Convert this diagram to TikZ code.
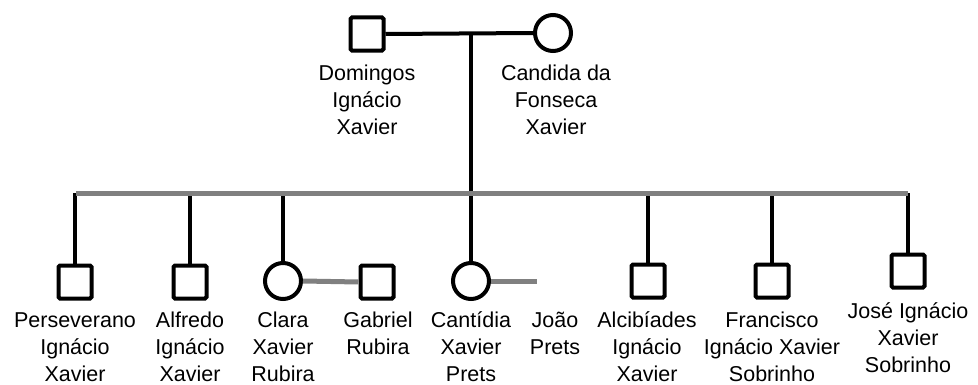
\documentclass[tikz,border=0pt]{standalone}
\usepackage{fontspec}
\setmainfont{Liberation Sans}
\begin{document}
\begin{tikzpicture}[x=1pt,y=1pt,
  male/.style={draw=black,rectangle,line width=4pt,minimum size=33pt,inner sep=0pt,rounded corners=1.5pt},
  female/.style={draw=black,circle,line width=4pt,minimum size=36pt,inner sep=0pt},
  blk/.style={draw=black,line width=4pt},
  gry/.style={draw=lgray,line width=5pt},
  lbl/.style={align=center,inner sep=0pt,anchor=base,font=\fontsize{21.5}{27}\selectfont}]
\definecolor{lgray}{HTML}{808080}
\useasboundingbox (0,0) rectangle (978,384);
% parents
\node[male] (fa) at (367,350) {};
\node[female] (mo) at (553,351) {};
\coordinate (mar) at (471,351);
% children
\node[male] (per) at (75,102) {};
\node[male] (alf) at (190,102) {};
\node[female] (cla) at (283,103) {};
\node[male] (gab) at (377,102) {};
\node[female] (can) at (471,103) {};
\coordinate (joaoend) at (537,103);
\node[male] (alc) at (648,103) {};
\node[male] (fra) at (772,103) {};
\node[male] (jos) at (908,113) {};
\coordinate (sibL) at (76,191);
\coordinate (sibR) at (908,191);
% black lines
\draw[blk] (fa.east) -- (mo.west);
\draw[blk] (mar) -- (can.north);
\foreach \c in {per,alf,cla,alc,fra,jos}
  \draw[blk] (\c.north |- sibL) -- (\c.north);
% grey lines
\draw[gry] (sibL) -- (sibR);
\draw[gry] (cla.east) -- (gab.west);
\draw[gry] (can.east) -- (joaoend);
% labels (anchor = baseline of the last line)
\node[lbl] (tfa) at (367,250) {Domingos\\Ignácio\\Xavier};
\node[lbl] (tmo) at (556,250) {Candida da\\Fonseca\\Xavier};
\node[lbl] (tper) at (75,3) {Perseverano\\Ignácio\\Xavier};
\node[lbl] (talf) at (190,3) {Alfredo\\Ignácio\\Xavier};
\node[lbl] (tcla) at (283,3) {Clara\\Xavier\\Rubira};
\node[lbl] (tgab) at (378,30) {Gabriel\\Rubira};
\node[lbl] (tcan) at (471,3) {Cantídia\\Xavier\\Prets};
\node[lbl] (tjoa) at (555,30) {João\\Prets};
\node[lbl] (talc) at (647,3) {Alcibíades\\Ignácio\\Xavier};
\node[lbl] (tfra) at (772,3) {Francisco\\Ignácio Xavier\\Sobrinho};
\node[lbl] (tjos) at (908,12) {José Ignácio\\Xavier\\Sobrinho};
\end{tikzpicture}
\end{document}
